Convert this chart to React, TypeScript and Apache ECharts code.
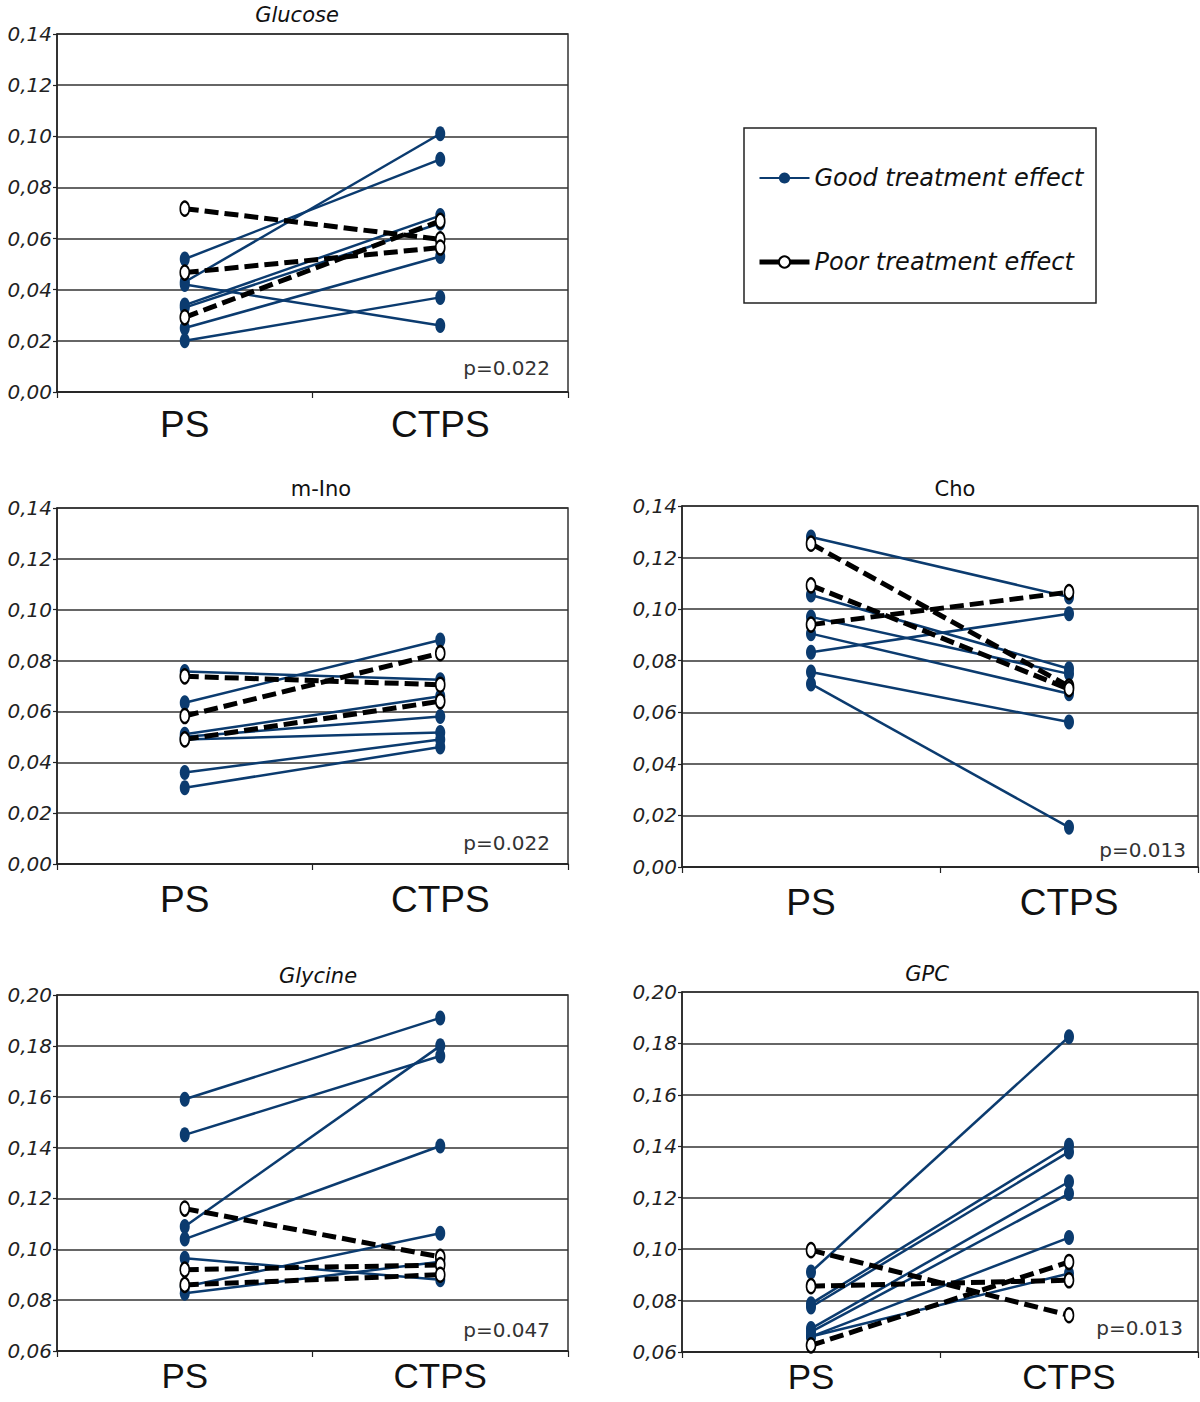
import React, { useEffect, useRef } from "react";
import * as echarts from "echarts";

// ---- data ----
const categories = ["PS", "CTPS"];

const glucoseGood = [[0.052, 0.091], [0.043, 0.101], [0.042, 0.026], [0.034, 0.069], [0.033, 0.066], [0.025, 0.053], [0.020, 0.037]];
const glucosePoor = [[0.0717, 0.0597], [0.0467, 0.0565], [0.0292, 0.0669]];

const mInoGood = [[0.0757, 0.0725], [0.0634, 0.0881], [0.051, 0.066], [0.050, 0.058], [0.049, 0.0517], [0.036, 0.049], [0.030, 0.046]];
const mInoPoor = [[0.0738, 0.0705], [0.0582, 0.0829], [0.049, 0.064]];

const choGood = [[0.128, 0.1047], [0.1055, 0.0769], [0.097, 0.0749], [0.0905, 0.0672], [0.0833, 0.0982], [0.0756, 0.0562], [0.071, 0.0154]];
const choPoor = [[0.1254, 0.070], [0.1092, 0.069], [0.094, 0.1066]];

const glycineGood = [[0.159, 0.191], [0.145, 0.176], [0.109, 0.180], [0.104, 0.1406], [0.0965, 0.088], [0.0853, 0.1063], [0.0827, 0.0951]];
const glycinePoor = [[0.116, 0.097], [0.092, 0.0938], [0.086, 0.090]];

const gpcGood = [[0.0911, 0.1826], [0.0788, 0.1404], [0.0775, 0.1378], [0.0691, 0.1262], [0.0678, 0.1216], [0.066, 0.1045], [0.066, 0.0905]];
const gpcPoor = [[0.0996, 0.0743], [0.0856, 0.0879], [0.0626, 0.095]];

const panelTitles = ["Glucose", "m-Ino", "Cho", "Glycine", "GPC"];
const pValues = ["p=0.022", "p=0.022", "p=0.013", "p=0.047", "p=0.013"];
const yMins = [0, 0, 0, 0.06, 0.06];
const yMaxs = [0.14, 0.14, 0.14, 0.2, 0.2];
const goodSets = [glucoseGood, mInoGood, choGood, glycineGood, gpcGood];
const poorSets = [glucosePoor, mInoPoor, choPoor, glycinePoor, gpcPoor];

const GOOD = "Good treatment effect";
const POOR = "Poor treatment effect";

// ---- layout ----
const grids = [
  { left: 57, top: 34, width: 511, height: 358 },
  { left: 57, top: 508, width: 511, height: 356 },
  { left: 682, top: 506, width: 516, height: 361 },
  { left: 57, top: 995, width: 511, height: 356 },
  { left: 682, top: 992, width: 516, height: 360 },
];
const xLabelFont = [37, 37, 37, 35, 35];
const xLabelMargin = [14, 17, 17, 7, 7];
const titlePos = [
  { x: 292, y: -1, italic: true },
  { x: 316, y: 473, italic: false },
  { x: 950, y: 473, italic: false },
  { x: 313, y: 960, italic: true },
  { x: 922, y: 958, italic: true },
];
const pPos = [
  { x: 550, y: 368 },
  { x: 550, y: 843 },
  { x: 1186, y: 850 },
  { x: 550, y: 1330 },
  { x: 1183, y: 1328 },
];

const NAVY = "#0b3b6f";
const FONT = "'Liberation Sans', Arial, sans-serif";
const WIDE = "'DejaVu Sans', sans-serif";

export default function App() {
  const ref = useRef<HTMLDivElement>(null);
  useEffect(() => {
    if (!ref.current) return;
    const chart = echarts.init(ref.current, null, { renderer: "svg" });

    const xAxes: any[] = [];
    const yAxes: any[] = [];
    const series: any[] = [];
    const titles: any[] = [];
    const graphics: any[] = [];

    grids.forEach((g, i) => {
      xAxes.push({
        gridIndex: i,
        type: "category",
        data: categories,
        boundaryGap: true,
        axisLine: { show: true, lineStyle: { color: "#222", width: 1.5 } },
        axisTick: { show: true, length: 6, lineStyle: { color: "#222", width: 1.2 } },
        axisLabel: { color: "#111", fontSize: xLabelFont[i], fontFamily: FONT, margin: xLabelMargin[i] },
        splitLine: { show: false },
      });
      yAxes.push({
        gridIndex: i,
        type: "value",
        min: yMins[i],
        max: yMaxs[i],
        interval: 0.02,
        axisLine: { show: true, lineStyle: { color: "#222", width: 1.5 } },
        axisTick: { show: true, length: 4, lineStyle: { color: "#222", width: 1.2 } },
        axisLabel: {
          color: "#222",
          fontSize: 20,
          fontStyle: "italic",
          fontFamily: WIDE,
          margin: 5,
          formatter: (v: number) => v.toFixed(2).replace(".", ","),
        },
        splitLine: { show: true, lineStyle: { color: "#333", width: 1.5 } },
      });
      goodSets[i].forEach((d) => {
        series.push({
          type: "line",
          name: GOOD,
          xAxisIndex: i,
          yAxisIndex: i,
          data: d,
          symbol: "circle",
          symbolSize: [10, 15],
          lineStyle: { color: NAVY, width: 2.5 },
          itemStyle: { color: NAVY },
          z: 2,
        });
      });
      poorSets[i].forEach((d) => {
        series.push({
          type: "line",
          name: POOR,
          xAxisIndex: i,
          yAxisIndex: i,
          data: d,
          symbol: "emptyCircle",
          symbolSize: [9, 14],
          lineStyle: { color: "#000", width: 5, type: [14, 6] },
          itemStyle: { color: "#000", borderColor: "#000", borderWidth: 3 },
          z: 3,
        });
      });
      titles.push({
        text: panelTitles[i],
        left: titlePos[i].x,
        top: titlePos[i].y,
        textAlign: "center",
        textStyle: {
          fontSize: 21,
          fontWeight: "normal",
          fontStyle: titlePos[i].italic ? "italic" : "normal",
          color: "#111",
          fontFamily: WIDE,
        },
      });
      graphics.push({
        type: "text",
        x: pPos[i].x,
        y: pPos[i].y,
        style: {
          text: pValues[i],
          align: "right",
          verticalAlign: "middle",
          fontSize: 20,
          fill: "#333",
          fontFamily: WIDE,
        },
      });
    });

    graphics.push({
      type: "rect",
      shape: { x: 744, y: 128, width: 352, height: 175 },
      style: { fill: "none", stroke: "#222", lineWidth: 1.5 },
    });

    chart.setOption({
      animation: false,
      backgroundColor: "#fff",
      title: titles,
      grid: grids.map((g) => ({ ...g, show: true, borderColor: "#333", borderWidth: 1.5, backgroundColor: "transparent" })),
      xAxis: xAxes,
      yAxis: yAxes,
      legend: {
        data: [
          { name: GOOD },
          { name: POOR, lineStyle: { type: "solid", width: 5, color: "#000" }, itemStyle: { color: "#000", borderWidth: 3 } },
        ],
        orient: "vertical",
        left: 757,
        top: 164,
        padding: 0,
        itemWidth: 50,
        itemHeight: 14,
        itemGap: 56,
        textStyle: { fontSize: 24, fontStyle: "italic", color: "#111", fontFamily: WIDE, lineHeight: 28 },
        selectedMode: false,
      },
      graphic: graphics,
      series,
    });
    return () => chart.dispose();
  }, []);
  return <div ref={ref} style={{ position: "absolute", left: 0, top: 0, width: 1200, height: 1402 }} />;
}
